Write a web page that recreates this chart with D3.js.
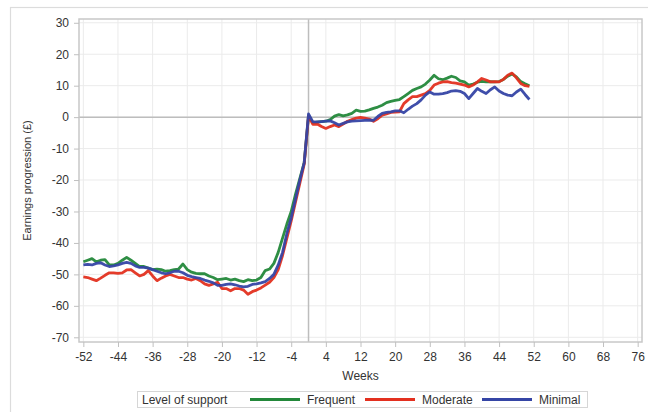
<!DOCTYPE html>
<html>
<head>
<meta charset="utf-8">
<script src="https://cdn.jsdelivr.net/npm/d3@7"></script>
<style>
  html, body { margin: 0; padding: 0; background: #fff; }
  svg { display: block; font-family: "Liberation Sans", Arial, sans-serif; }
</style>
</head>
<body>
<svg id="chart" width="648" height="412"></svg>
<script>
// ---- Data ----
const weeks = d3.range(-52, 52);
const xTicks = [-52, -44, -36, -28, -20, -12, -4, 4, 12, 20, 28, 36, 44, 52, 60, 68, 76];
const yTicks = [-70, -60, -50, -40, -30, -20, -10, 0, 10, 20, 30];
const seriesNames = ["Frequent", "Moderate", "Minimal"];
const seriesColors = ["#23883a", "#e3301f", "#3545a5"];

const frequent = [
  -46, -45.5, -45, -46, -45.5, -45.3, -47, -47, -46.5, -45.5,
  -44.6, -45.5, -46.5, -47.5, -47.5, -48, -48.5, -48.3, -48.5, -49,
  -48.8, -48.5, -48.3, -46.7, -48.5, -49.3, -49.7, -49.8, -49.8, -50.5,
  -51, -51.7, -51.5, -51.3, -51.8, -51.5, -52, -52.3, -51.7, -52,
  -51.8, -51, -48.8, -48.3, -46.5, -43, -38.5, -34, -30, -24.5,
  -19.5, -14.5,
  0.5, -1.8, -1.6, -1.4, -1.3, -0.8, 0.3, 0.8, 0.4, 0.7,
  1.2, 2.2, 1.8, 1.9, 2.3, 2.8, 3.2, 3.8, 4.6, 5,
  5.3, 5.6, 6.5, 7.5, 8.5, 9.1, 9.6, 10.5, 11.8, 13.3,
  12.2, 11.9, 12.4, 13, 12.6, 11.5, 11.2, 10.2, 10.5, 11.1,
  11.4, 11.2, 11.3, 11.2, 11.3, 12, 13, 13.7, 12.8, 11.3,
  10.6, 10
];
const moderate = [
  -50.8, -51, -51.5, -52, -51.2, -50.3, -49.5, -49.5, -49.7, -49.5,
  -48.6, -48.5, -49.5, -50.5, -50, -48.8, -50.5, -52, -51.2, -50.5,
  -50, -50.5, -51, -51, -51.5, -51.8, -51.3, -52, -53, -53.5,
  -53, -52.5, -54.5, -54.5, -55.2, -54.5, -54.5, -55, -56.3, -55.5,
  -55, -54.3, -53.4, -52.5, -51, -48.5, -44, -38.5, -33, -27,
  -21, -15,
  0.3, -2.3, -2.2, -3, -3.6, -3, -2.5, -3, -2.2, -1.3,
  -0.8, -0.3, -0.1, -0.3, -0.6, -1.3, -0.5, 0.6, 1, 1.5,
  1.6, 1.7, 4.3, 5.5, 6.5, 6.5, 7, 7.5, 8.5, 10.2,
  10.8, 11.2, 11.3, 11, 10.8, 10.5, 10.2, 9.6, 10.2, 11.2,
  12.3, 11.8, 11.2, 11.3, 11.2, 12, 13.3, 14, 12.5, 10.7,
  10, 9.8
];
const minimal = [
  -47, -46.8, -47, -46.5, -46.3, -47, -47.5, -47.3, -47, -46.5,
  -46.2, -46.5, -47.3, -47.8, -47.8, -48, -48.5, -49, -49.5, -49.8,
  -49.5, -49, -49, -49.5, -50.3, -50.7, -51, -51.3, -51.8, -52.2,
  -52.7, -53.5, -53.5, -53.2, -53, -53.3, -53.7, -54, -53.8, -53.2,
  -53, -52.7, -52.3, -51.3, -50, -47, -43, -37, -32, -26,
  -20, -14.5,
  1, -1.5, -1.5, -1.4, -1.3, -1.2, -1.8, -2.5, -2, -1.5,
  -1.3, -1.2, -1.1, -1, -1, -1, 0.2, 1.2, 1.5, 1.7,
  2, 2, 1.4, 2.5, 3.5, 4.3, 5.5, 7, 8, 7.3,
  7.3, 7.5, 7.8, 8.3, 8.4, 8.2, 7.5, 5.9, 7.5, 9.1,
  8.2, 7.5, 8.7, 9.6, 8.3, 7.5, 7, 6.8, 8, 8.9,
  7.2, 5.6
];
const seriesValues = [frequent, moderate, minimal];

// ---- Layout ----
const svg = d3.select("#chart");
const plot = { left: 79, top: 19, right: 642, bottom: 342 };

const x = d3.scaleLinear().domain([-53, 77]).range([plot.left, plot.right]);
const y = d3.scaleLinear().domain([-71.5, 31.2]).range([plot.bottom, plot.top]);

// Outer border
svg.append("rect")
  .attr("x", 10.5).attr("y", 7.5)
  .attr("width", 700).attr("height", 500)
  .attr("fill", "none").attr("stroke", "#dcdcdc").attr("stroke-width", 1.2);

// Grid lines
const grid = svg.append("g");
grid.selectAll(".vg").data(xTicks).join("line")
  .attr("x1", d => x(d)).attr("x2", d => x(d))
  .attr("y1", plot.top).attr("y2", plot.bottom)
  .attr("stroke", "#ebebeb").attr("stroke-width", 1);
grid.selectAll(".hg").data(yTicks).join("line")
  .attr("x1", plot.left).attr("x2", plot.right)
  .attr("y1", d => y(d)).attr("y2", d => y(d))
  .attr("stroke", "#ebebeb").attr("stroke-width", 1);

// Reference lines at 0
svg.append("line")
  .attr("x1", plot.left).attr("x2", plot.right)
  .attr("y1", y(0)).attr("y2", y(0))
  .attr("stroke", "#bdbdbd").attr("stroke-width", 1.5);
svg.append("line")
  .attr("x1", x(0)).attr("x2", x(0))
  .attr("y1", plot.top).attr("y2", plot.bottom)
  .attr("stroke", "#bdbdbd").attr("stroke-width", 1.5);

// Plot frame
svg.append("rect")
  .attr("x", plot.left).attr("y", plot.top)
  .attr("width", plot.right - plot.left).attr("height", plot.bottom - plot.top)
  .attr("fill", "none").attr("stroke", "#c8c8c8").attr("stroke-width", 1.5);

// Axes
const fmt = d => String(d);
const xAxis = svg.append("g")
  .attr("transform", `translate(0,${plot.bottom})`)
  .call(d3.axisBottom(x).tickValues(xTicks).tickFormat(fmt).tickSize(5).tickPadding(5).tickSizeOuter(0));
const yAxis = svg.append("g")
  .attr("transform", `translate(${plot.left},0)`)
  .call(d3.axisLeft(y).tickValues(yTicks).tickFormat(fmt).tickSize(5).tickPadding(5).tickSizeOuter(0));
[xAxis, yAxis].forEach(a => {
  a.select(".domain").remove();
  a.selectAll(".tick line").attr("stroke", "#c0c0c0");
  a.selectAll(".tick text")
    .attr("fill", "#333")
    .style("font-size", "12px")
    .style("font-family", "'Liberation Sans', Arial, sans-serif");
});

// Axis labels
svg.append("text")
  .attr("x", (plot.left + plot.right) / 2).attr("y", 380)
  .attr("text-anchor", "middle")
  .attr("fill", "#333")
  .style("font-size", "12px")
  .text("Weeks");
svg.append("text")
  .attr("transform", `translate(31,${(plot.top + plot.bottom) / 2}) rotate(-90)`)
  .attr("text-anchor", "middle")
  .attr("fill", "#333")
  .style("font-size", "11px")
  .text("Earnings progression (£)");

// Lines
const line = d3.line()
  .x((d, i) => x(weeks[i]))
  .y(d => y(d));
const lineGroup = svg.append("g");
seriesValues.forEach((vals, i) => {
  lineGroup.append("path")
    .datum(vals)
    .attr("d", line)
    .attr("fill", "none")
    .attr("stroke", seriesColors[i])
    .attr("stroke-width", 2.8)
    .attr("stroke-linejoin", "round")
    .attr("opacity", 0.95);
});

// Legend
const legend = svg.append("g");
legend.append("rect")
  .attr("x", 137.5).attr("y", 391.5)
  .attr("width", 450).attr("height", 16)
  .attr("fill", "#fff").attr("stroke", "#d6d6d6");
legend.append("text")
  .attr("x", 142).attr("y", 404)
  .attr("fill", "#333").style("font-size", "12px")
  .text("Level of support");
const legX = [250, 365, 482];
seriesNames.forEach((name, i) => {
  legend.append("line")
    .attr("x1", legX[i]).attr("x2", legX[i] + 50)
    .attr("y1", 399.5).attr("y2", 399.5)
    .attr("stroke", seriesColors[i]).attr("stroke-width", 2.8);
  legend.append("text")
    .attr("x", legX[i] + 57).attr("y", 404)
    .attr("fill", "#333").style("font-size", "12px")
    .text(name);
});
</script>
</body>
</html>
